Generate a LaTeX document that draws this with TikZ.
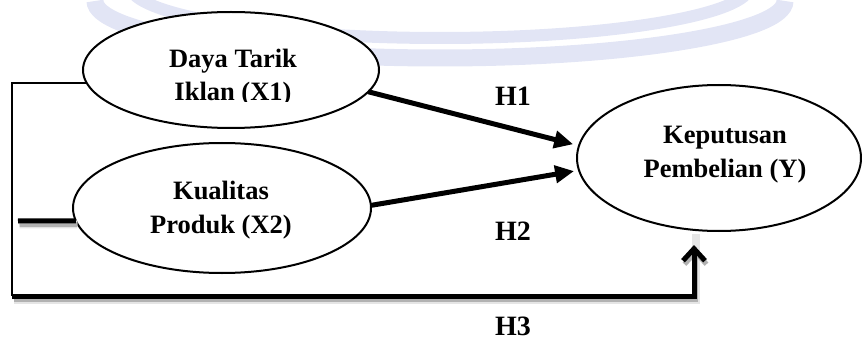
\documentclass[tikz,border=0pt]{standalone}
\usepackage{fontspec}
\setmainfont{Liberation Serif}
\usetikzlibrary{arrows.meta,shapes.geometric}
\definecolor{wmark}{RGB}{226,229,245}

\begin{document}
\begin{tikzpicture}[x=1pt,y=-1pt,
  latent/.style={draw, line width=2pt, fill=white, shape=ellipse,
    inner sep=0pt, outer sep=0pt},
  lbl/.style={font=\fontsize{26.5}{33}\selectfont\bfseries, anchor=base, inner sep=0pt},
  hyp/.style={font=\fontsize{28}{33}\selectfont\bfseries, anchor=base, inner sep=0pt},
  patharrow/.style={line width=5pt, -{Triangle[length=19pt,width=17pt]}},
  thinline/.style={line width=2pt},
  thickline/.style={line width=5pt},
  barbtip/.style={-{Straight Barb[length=12pt,width=22pt]}},
]
\useasboundingbox (0,0) rectangle (862,342);

% faint background bands
\begin{scope}
  \clip (0,0) rectangle (862,342);
  \draw[wmark, line width=17pt] (95,1) arc[start angle=180, end angle=0, x radius=345, y radius=57];
  \draw[wmark, line width=12pt] (130,-14) arc[start angle=180, end angle=0, x radius=310, y radius=52];
\end{scope}

% constructs
\node[latent, minimum width=296pt, minimum height=116pt] (x1) at (231,70) {};
\node[latent, minimum width=298pt, minimum height=130pt] (x2) at (222,208) {};
\node[latent, minimum width=284pt, minimum height=146pt] (y)  at (719,158) {};

\node[lbl] (x1a) at (233,68) {Daya Tarik};
\begin{scope}
  \clip (100,40) rectangle (370,102);
  \node[lbl] (x1b) at (233,101) {Iklan (X1)};
\end{scope}
\node[lbl] (x2a) at (221,199) {Kualitas};
\node[lbl] (x2b) at (221,233) {Produk (X2)};
\node[lbl] (ya) at (725,143) {Keputusan};
\node[lbl] (yb) at (725,178) {Pembelian (Y)};

% hypothesis labels
\node[hyp] (h1) at (513,106) {H1};
\node[hyp] (h2) at (513,240) {H2};
\node[hyp] (h3) at (513,335) {H3};

% corner points of the simultaneous path
\coordinate (bl) at (12,296);
\coordinate (lx2) at (18,221);
\coordinate (ybot) at (694,230);

% drop shadows of the thick lines
\begin{scope}[transform canvas={shift={(1.5pt,-3.5pt)}}]
  \draw[line width=8pt, black!10] (bl) -| (ybot);
  \draw[thickline, black!30, barbtip, shorten >=15pt] (bl) -| (ybot);
  \draw[line width=8pt, black!10] (lx2) -- (x2.185);
  \draw[thickline, black!30] (lx2) -- (x2.185);
\end{scope}

% connectors
\draw[thinline] (x1.185) -| (bl);
\draw[thickline] (lx2) -- (x2.185);
\draw[thickline, barbtip, shorten >=15pt] (bl) -| (ybot);
\draw[patharrow, shorten >=6pt] (x1.-9.6) -- (y.175.9);
\draw[patharrow, shorten >=5pt] (x2.1.9) -- (y.185.7);
\end{tikzpicture}
\end{document}
